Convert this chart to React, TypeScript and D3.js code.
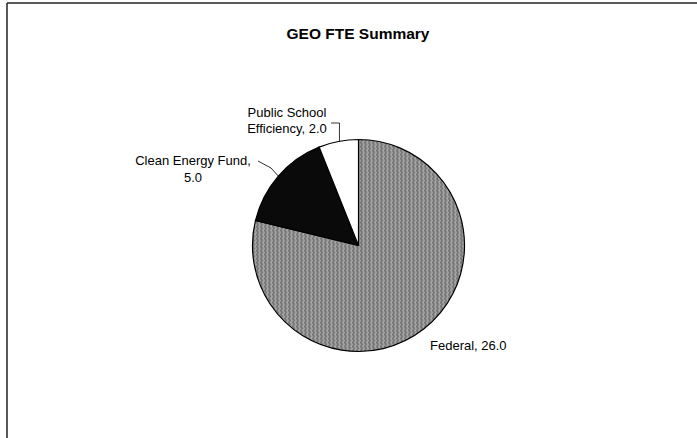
import React from "react";
import * as d3 from "d3";

const categories = ["Federal", "Clean Energy Fund", "Public School Efficiency"];
const values = [26.0, 5.0, 2.0];
const labelLines = [["Federal, 26.0"], ["Clean Energy Fund,", "5.0"], ["Public School", "Efficiency, 2.0"]];
const fills = ["#8c8c8c", "#0a0a0a", "#ffffff"];
const title = "GEO FTE Summary";

export default function App() {
  const W = 697, H = 438;
  const cx = 358.5, cy = 245.5, r = 106;
  const data = categories.map((c, i) => ({ c, v: values[i], i }));
  const pie = d3.pie<any>().value((d) => d.v).sort(null);
  const arcs = pie(data);
  const arc = d3.arc<any>().innerRadius(0).outerRadius(r);
  const font = "Arial, 'Liberation Sans', Helvetica, sans-serif";
  const mid = (a: any) => (a.startAngle + a.endAngle) / 2;
  const edge = (a: any, rr: number) => [Math.sin(mid(a)) * rr, -Math.cos(mid(a)) * rr];

  const ce = edge(arcs[1], r);
  const ps = edge(arcs[2], r);
  const fs = 13;

  return (
    <svg width={W} height={H} style={{ position: "absolute", left: 0, top: 0 }}>
      <defs>
        <pattern id="dither" width="4" height="4" patternUnits="userSpaceOnUse">
          <rect width="4" height="4" fill={fills[0]} />
          <rect x="0" y="0" width="1" height="1" fill="#e8e8e8" />
          <rect x="2" y="1" width="1" height="1" fill="#333" />
          <rect x="1" y="2" width="1" height="1" fill="#d8d8d8" />
          <rect x="3" y="3" width="1" height="1" fill="#444" />
        </pattern>
      </defs>
      <rect width={W} height={H} fill="#fff" />
      <line x1={7} y1={3} x2={697} y2={3} stroke="#222" strokeWidth={1.5} />
      <line x1={7} y1={3} x2={7} y2={438} stroke="#222" strokeWidth={1.5} />
      <text x={358} y={39} textAnchor="middle" fontFamily={font} fontWeight="bold" fontSize={15.5} fill="#000">
        {title}
      </text>
      <g transform={`translate(${cx},${cy})`}>
        {arcs.map((a, i) => (
          <path key={i} d={arc(a) || ""} fill={i === 0 ? "url(#dither)" : fills[i]} stroke="#000" strokeWidth={1.2} />
        ))}
        <polyline
          points={`${258 - cx},${161 - cy} ${271 - cx},${168 - cy} ${ce[0]},${ce[1]}`}
          fill="none"
          stroke="#000"
          strokeWidth={0.8}
        />
        <polyline
          points={`${331 - cx},${123 - cy} ${ps[0] + 1},${123 - cy} ${ps[0] + 1},${ps[1]}`}
          fill="none"
          stroke="#000"
          strokeWidth={0.8}
        />
      </g>
      <text fontFamily={font} fontSize={fs} fill="#000" textAnchor="middle">
        <tspan x={193} y={165}>{labelLines[1][0]}</tspan>
        <tspan x={193} y={182}>{labelLines[1][1]}</tspan>
      </text>
      <text fontFamily={font} fontSize={fs} fill="#000" textAnchor="middle">
        <tspan x={287} y={117}>{labelLines[2][0]}</tspan>
        <tspan x={287} y={133}>{labelLines[2][1]}</tspan>
      </text>
      <text x={430} y={350} fontFamily={font} fontSize={fs} fill="#000">
        {labelLines[0][0]}
      </text>
    </svg>
  );
}
